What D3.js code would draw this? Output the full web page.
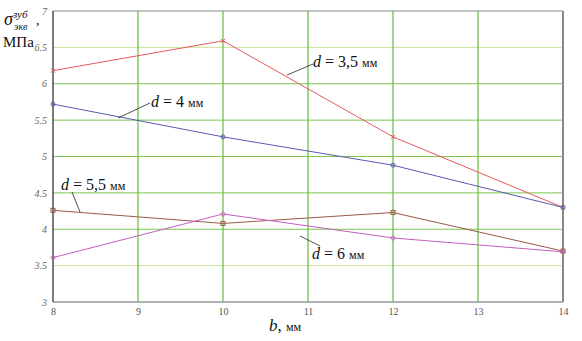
<!DOCTYPE html>
<html><head><meta charset="utf-8">
<script src="https://cdn.jsdelivr.net/npm/d3@7"></script>
<style>body{margin:0;background:#fff}svg{display:block}</style>
</head><body>
<svg id="c" width="582" height="341"></svg>
<script>
const xValues = [8, 10, 12, 14];
const d35 = [6.18, 6.59, 5.27, 4.30];
const d4  = [5.72, 5.27, 4.88, 4.30];
const d55 = [4.26, 4.08, 4.23, 3.70];
const d6  = [3.61, 4.21, 3.88, 3.69];
const xTicks = [8, 9, 10, 11, 12, 13, 14];
const yTicks = [3, 3.5, 4, 4.5, 5, 5.5, 6, 6.5, 7];
const yTickLabels = ["3", "3.5", "4", "4.5", "5", "5.5", "6", "6.5", "7"];

const svg = d3.select("#c");
const x = d3.scaleLinear().domain([8, 14]).range([53, 563]);
const y = d3.scaleLinear().domain([3, 7]).range([302, 11]);

// grid
svg.append("g").selectAll("line").data(yTicks.filter(v => v > 3 && v < 7)).join("line")
  .attr("x1", x(8)).attr("x2", x(14))
  .attr("y1", d => y(d)).attr("y2", d => y(d))
  .attr("stroke", d => (d === 6.5 || d === 3.5) ? "#c9e3a0" : "#7cc653").attr("stroke-width", 1);
svg.append("g").selectAll("line").data(xTicks.filter(v => v > 8 && v < 14)).join("line")
  .attr("x1", d => x(d)).attr("x2", d => x(d))
  .attr("y1", y(3)).attr("y2", y(7))
  .attr("stroke", "#62bb3e").attr("stroke-width", 1.2);

// frame
svg.append("line").attr("x1", x(8)).attr("x2", x(14)).attr("y1", y(7)).attr("y2", y(7)).attr("stroke", "#888").attr("stroke-width", 1);
svg.append("line").attr("x1", x(14)).attr("x2", x(14)).attr("y1", y(7)).attr("y2", y(3)).attr("stroke", "#888").attr("stroke-width", 2);
svg.append("line").attr("x1", x(8)).attr("x2", x(14)).attr("y1", y(3)).attr("y2", y(3)).attr("stroke", "#999").attr("stroke-width", 1.5);
svg.append("line").attr("x1", x(8)).attr("x2", x(8)).attr("y1", y(7)).attr("y2", y(3)).attr("stroke", "#222").attr("stroke-width", 1.2);

// axes tick labels
const yAxis = d3.axisLeft(y).tickValues(yTicks).tickSize(0).tickPadding(6)
  .tickFormat((d, i) => yTickLabels[i]);
const gy = svg.append("g").attr("transform", `translate(${x(8)},0)`).call(yAxis)
  .attr("font-family", "Liberation Serif");
gy.select(".domain").remove();
gy.selectAll("text").attr("font-family", "Liberation Serif").attr("font-style", "italic").attr("font-size", 10).attr("fill", "#666");

const xAxis = d3.axisBottom(x).tickValues(xTicks).tickSize(0).tickPadding(6).tickFormat(d3.format("d"));
const gx = svg.append("g").attr("transform", `translate(0,${y(3)})`).call(xAxis)
  .attr("font-family", "Liberation Serif");
gx.select(".domain").remove();
gx.selectAll("text").attr("font-family", "Liberation Serif").attr("font-size", 10).attr("fill", "#555");

// series
const series = [
  {v: d35, color: "#e8585a", marker: "cross"},
  {v: d4, color: "#5a5ab0", marker: "circle"},
  {v: d55, color: "#9a5a44", marker: "square"},
  {v: d6, color: "#c45fbf", marker: "diamond"}
];
const line = d3.line().x((d, i) => x(xValues[i])).y(d => y(d));
series.forEach(s => {
  svg.append("path").datum(s.v).attr("d", line).attr("fill", "none")
    .attr("stroke", s.color).attr("stroke-width", 1);
  const g = svg.append("g");
  s.v.forEach((val, i) => {
    const cx = x(xValues[i]), cy = y(val);
    if (s.marker === "circle") g.append("circle").attr("cx", cx).attr("cy", cy).attr("r", 2).attr("fill", "none").attr("stroke", s.color);
    else if (s.marker === "square") g.append("rect").attr("x", cx - 2).attr("y", cy - 2).attr("width", 4).attr("height", 4).attr("fill", "none").attr("stroke", s.color);
    else if (s.marker === "diamond") g.append("path").attr("d", `M${cx},${cy-2.5}L${cx+2.5},${cy}L${cx},${cy+2.5}L${cx-2.5},${cy}Z`).attr("fill", "none").attr("stroke", s.color);
    else g.append("path").attr("d", `M${cx-2},${cy-2}L${cx+2},${cy+2}M${cx-2},${cy+2}L${cx+2},${cy-2}`).attr("stroke", s.color);
  });
});

// annotations
function label(tx, ty, num, lx1, ly1, lx2, ly2) {
  svg.append("line").attr("x1", lx1).attr("y1", ly1).attr("x2", lx2).attr("y2", ly2).attr("stroke", "#222").attr("stroke-width", 0.8);
  const t = svg.append("text").attr("x", tx).attr("y", ty).attr("font-family", "Liberation Serif").attr("font-size", 16).attr("fill", "#111");
  t.append("tspan").attr("font-style", "italic").text("d");
  t.append("tspan").text(" = " + num + " ");
  t.append("tspan").attr("font-size", 12).text("мм");
}
label(313, 67, "3,5", 287, 75, 313, 64);
label(151, 107, "4", 118, 118, 150, 103);
label(61, 190, "5,5", 72, 192, 80, 212);
label(312, 259, "6", 300, 236, 320, 246);

// y title
const yt = svg.append("text").attr("x", 4).attr("y", 25).attr("font-family", "Liberation Serif").attr("fill", "#111");
yt.append("tspan").attr("font-style", "italic").attr("font-size", 18).text("σ");
yt.append("tspan").attr("font-style", "italic").attr("font-size", 11).attr("dy", -7).text("зуб");
svg.append("text").attr("x", 14).attr("y", 30).attr("font-family", "Liberation Serif").attr("font-style", "italic").attr("font-size", 10).attr("fill", "#111").text("экв");
svg.append("text").attr("x", 36).attr("y", 25).attr("font-family", "Liberation Serif").attr("font-size", 14).attr("fill", "#111").text(",");
svg.append("text").attr("x", 3).attr("y", 47).attr("font-family", "Liberation Serif").attr("font-size", 15).attr("fill", "#111").text("МПа");

// x title
const xt = svg.append("text").attr("x", 285).attr("y", 331).attr("text-anchor", "middle").attr("font-family", "Liberation Serif").attr("font-size", 17).attr("fill", "#111");
xt.append("tspan").attr("font-style", "italic").text("b");
xt.append("tspan").text(", ");
xt.append("tspan").attr("font-size", 12).text("мм");
</script>
</body></html>
